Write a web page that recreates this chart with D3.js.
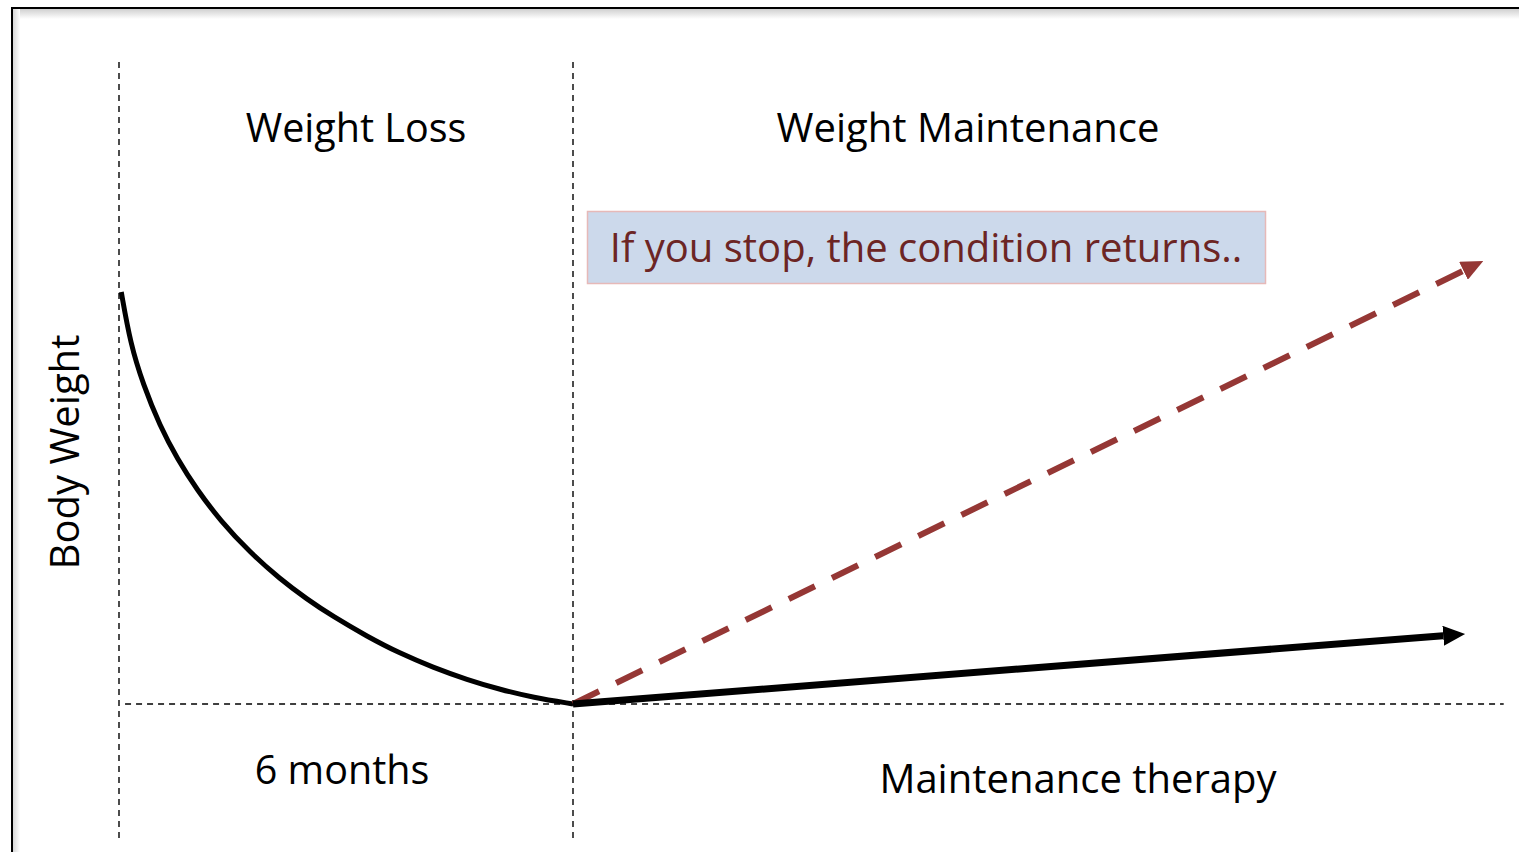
<!DOCTYPE html>
<html>
<head>
<meta charset="utf-8">
<script src="https://cdn.jsdelivr.net/npm/d3@7"></script>
<style>
  html, body { margin: 0; padding: 0; background: #fff; }
  svg { display: block; }
  text { font-family: "Open Sans", "Liberation Sans", sans-serif; }
</style>
</head>
<body>
<div id="chart"></div>
<script>
// months since start vs. body weight (relative units, 0 = lowest point)
var lossMonths  = [0.03, 0.15, 0.32, 0.54, 0.77, 1.03, 1.34, 1.73, 2.13, 2.48, 2.83, 3.28, 3.71, 4.15, 4.60, 5.04, 5.47, 6.0];
var lossWeight  = [100, 87.5, 77.5, 67.5, 59.5, 52, 44.5, 36.8, 30.3, 25.5, 21.2, 16.4, 12.3, 8.9, 5.9, 3.5, 1.6, 0];
var keepMonths  = [6, 17.79];
var keepWeight  = [0, 17];
var stopMonths  = [6, 18.03];
var stopWeight  = [0, 107.5];
var phaseMonths = [0, 6];

var W = 1519, H = 852;

var svg = d3.select("#chart").append("svg")
    .attr("width", W)
    .attr("height", H);

var x = d3.scaleLinear().domain([0, 18]).range([119, 119 + 18 * 75.667]);
var y = d3.scaleLinear().domain([0, 100]).range([704, 292]);

var defs = svg.append("defs");

// soft shadow along the slide frame
var gv = defs.append("linearGradient").attr("id", "shTop").attr("x1", 0).attr("y1", 0).attr("x2", 0).attr("y2", 1);
gv.append("stop").attr("offset", "0%").attr("stop-color", "#d0d0d0");
gv.append("stop").attr("offset", "100%").attr("stop-color", "#fff");
var gh = defs.append("linearGradient").attr("id", "shLeft").attr("x1", 0).attr("y1", 0).attr("x2", 1).attr("y2", 0);
gh.append("stop").attr("offset", "0%").attr("stop-color", "#d8d8d8");
gh.append("stop").attr("offset", "100%").attr("stop-color", "#fff");

function arrowHead(id, color) {
    defs.append("marker")
        .attr("id", id)
        .attr("markerUnits", "userSpaceOnUse")
        .attr("viewBox", "0 0 22 20")
        .attr("refX", 0).attr("refY", 10)
        .attr("markerWidth", 22).attr("markerHeight", 20)
        .attr("orient", "auto")
        .append("path")
        .attr("d", "M0,0 L22,10 L0,20 Z")
        .attr("fill", color);
}
arrowHead("headBlack", "#000");
arrowHead("headRed", "#953735");

// line that stops short of its tip so the head sits on the end
function arrowPath(ms, ws, headLen) {
    var x0 = x(ms[0]), y0 = y(ws[0]), x1 = x(ms[1]), y1 = y(ws[1]);
    var len = Math.hypot(x1 - x0, y1 - y0);
    var k = (len - headLen) / len;
    return "M" + x0 + "," + y0 + " L" + (x0 + (x1 - x0) * k) + "," + (y0 + (y1 - y0) * k);
}

// frame
svg.append("rect").attr("x", 13).attr("y", 9).attr("width", W).attr("height", 10).attr("fill", "url(#shTop)");
svg.append("rect").attr("x", 13).attr("y", 9).attr("width", 7).attr("height", H).attr("fill", "url(#shLeft)");
svg.append("path")
    .attr("d", "M12," + H + " L12,8 L" + W + ",8")
    .attr("fill", "none")
    .attr("stroke", "#000")
    .attr("stroke-width", 2);

// guide lines
var guide = svg.append("g")
    .attr("stroke", "#000")
    .attr("stroke-width", 1.4)
    .attr("stroke-dasharray", "6,5")
    .attr("fill", "none");

guide.selectAll("line.v")
    .data(phaseMonths)
    .enter()
    .append("line")
    .attr("x1", function (d) { return x(d); })
    .attr("x2", function (d) { return x(d); })
    .attr("y1", y(155.8))
    .attr("y2", y(-32.5));

guide.append("line")
    .attr("x1", x(0.08))
    .attr("x2", x(18.3))
    .attr("y1", y(0))
    .attr("y2", y(0));

// weight loss curve
var line = d3.line()
    .x(function (d) { return x(d[0]); })
    .y(function (d) { return y(d[1]); })
    .curve(d3.curveBasis);

svg.append("path")
    .datum(d3.zip(lossMonths, lossWeight))
    .attr("d", line)
    .attr("fill", "none")
    .attr("stroke", "#000")
    .attr("stroke-width", 5);

// rebound if therapy stops
svg.append("path")
    .attr("d", arrowPath(stopMonths, stopWeight, 22))
    .attr("fill", "none")
    .attr("stroke", "#953735")
    .attr("stroke-width", 6)
    .attr("stroke-dasharray", "29,19")
    .attr("marker-end", "url(#headRed)");

// maintenance therapy
svg.append("path")
    .attr("d", arrowPath(keepMonths, keepWeight, 22))
    .attr("fill", "none")
    .attr("stroke", "#000")
    .attr("stroke-width", 7)
    .attr("marker-end", "url(#headBlack)");

// callout box
svg.append("rect")
    .attr("x", 587.5).attr("y", 211.5)
    .attr("width", 678).attr("height", 72)
    .attr("fill", "#ccd9eb")
    .attr("stroke", "#e6b9b8")
    .attr("stroke-width", 1.5);

svg.append("text")
    .attr("x", 926).attr("y", 262)
    .attr("text-anchor", "middle")
    .attr("font-size", "40px")
    .attr("fill", "#6c2524")
    .text("If you stop, the condition returns..");

// labels
var labels = [
    { t: "Weight Loss", x: 356, y: 142, s: 39.5 },
    { t: "Weight Maintenance", x: 968, y: 142, s: 40 },
    { t: "6 months", x: 342, y: 784, s: 39.5 },
    { t: "Maintenance therapy", x: 1078, y: 793, s: 40 }
];
svg.selectAll("text.lbl")
    .data(labels)
    .enter()
    .append("text")
    .attr("class", "lbl")
    .attr("x", function (d) { return d.x; })
    .attr("y", function (d) { return d.y; })
    .attr("text-anchor", "middle")
    .attr("font-size", function (d) { return d.s + "px"; })
    .attr("fill", "#000")
    .text(function (d) { return d.t; });

svg.append("text")
    .attr("transform", "translate(79,452) rotate(-90)")
    .attr("text-anchor", "middle")
    .attr("font-size", "40px")
    .attr("fill", "#000")
    .text("Body Weight");
</script>
</body>
</html>
